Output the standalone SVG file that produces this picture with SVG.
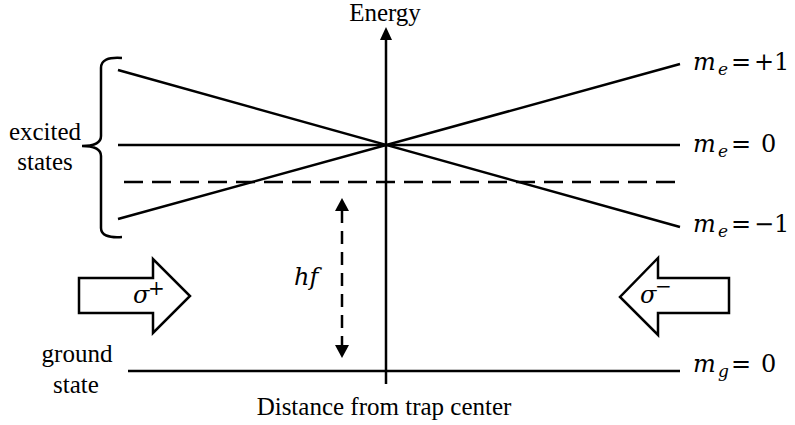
<svg xmlns="http://www.w3.org/2000/svg" width="795" height="425" viewBox="0 0 795 425">
<defs>
<style>
.ln{stroke:#000;stroke-width:2.5;fill:none}
.dash{stroke:#000;stroke-width:2.5;fill:none;stroke-dasharray:19 9}
.vdash{stroke:#000;stroke-width:2.5;fill:none;stroke-dasharray:13 8}
.txt{font-family:"Liberation Serif","Times New Roman",serif;font-size:25px;fill:#000}
.math{font-family:"DejaVu Serif","Liberation Serif",serif;font-size:24px;fill:#000}
.it{font-style:italic}
.sub{font-size:17px;font-style:italic}
.sup{font-size:20px}
.beam{fill:#fff;stroke:#000;stroke-width:2.5;stroke-linejoin:miter}
</style>
</defs>
<rect width="795" height="425" fill="#fff"/>

<g id="connectors">
  <!-- energy axis -->
  <line class="ln" x1="386" y1="38" x2="386" y2="384"/>
  <polygon points="386,27 380,40 392,40" fill="#000"/>
  <!-- excited state levels -->
  <line class="ln" x1="118" y1="70" x2="680" y2="227"/>
  <line class="ln" x1="118" y1="219" x2="680" y2="64"/>
  <line class="ln" x1="118" y1="145" x2="680" y2="145"/>
  <!-- laser frequency dashed line -->
  <line class="dash" x1="124" y1="182" x2="680" y2="182"/>
  <!-- ground state -->
  <line class="ln" x1="128" y1="371" x2="680" y2="371"/>
  <!-- hf arrow -->
  <line class="vdash" x1="342" y1="210" x2="342" y2="347"/>
  <polygon points="342,198 335,211 349,211" fill="#000"/>
  <polygon points="342,358 335,345 349,345" fill="#000"/>
  <!-- brace -->
  <path class="ln" d="M122,58 C108,57 101,60 101,68 L101,136 C101,142 96,146 82,146 C96,146 101,150 101,156 L101,228 C101,235 108,238 122,237"/>
</g>

<g id="axis-label">
  <text class="txt" x="385" y="21" text-anchor="middle">Energy</text>
  <text class="txt" x="384" y="415" text-anchor="middle">Distance from trap center</text>
</g>

<g id="excited-label">
  <text class="txt" x="45" y="140" text-anchor="middle">excited</text>
  <text class="txt" x="45" y="170" text-anchor="middle">states</text>
</g>

<g id="ground-label">
  <text class="txt" x="77" y="362" text-anchor="middle">ground</text>
  <text class="txt" x="76" y="393" text-anchor="middle">state</text>
</g>

<g id="me-plus1">
  <text class="math"><tspan class="it" x="693" y="70">m</tspan><tspan class="sub" x="718" y="75">e</tspan><tspan x="731" y="70">=</tspan><tspan x="754" y="70">+1</tspan></text>
</g>
<g id="me-0">
  <text class="math"><tspan class="it" x="693" y="152">m</tspan><tspan class="sub" x="718" y="157">e</tspan><tspan x="731" y="152">=</tspan><tspan x="761" y="152">0</tspan></text>
</g>
<g id="me-minus1">
  <text class="math"><tspan class="it" x="693" y="232">m</tspan><tspan class="sub" x="718" y="237">e</tspan><tspan x="731" y="232">=</tspan><tspan x="754" y="232">−1</tspan></text>
</g>
<g id="mg-0">
  <text class="math"><tspan class="it" x="693" y="372">m</tspan><tspan class="sub" x="718" y="377">g</tspan><tspan x="731" y="372">=</tspan><tspan x="761" y="372">0</tspan></text>
</g>

<g id="hf-label">
  <text class="math it" x="294" y="285">hf</text>
</g>

<g id="sigma-plus">
  <polygon class="beam" points="79,278 153,278 153,259 190,296 153,333 153,313 79,313"/>
  <text class="math"><tspan class="it" x="133" y="303">σ</tspan><tspan class="sup" x="148" y="295">+</tspan></text>
</g>

<g id="sigma-minus">
  <polygon class="beam" points="729,278 658,278 658,258 620,297 658,335 658,313 729,313"/>
  <text class="math"><tspan class="it" x="640" y="303">σ</tspan><tspan class="sup" x="655" y="293">−</tspan></text>
</g>
</svg>
